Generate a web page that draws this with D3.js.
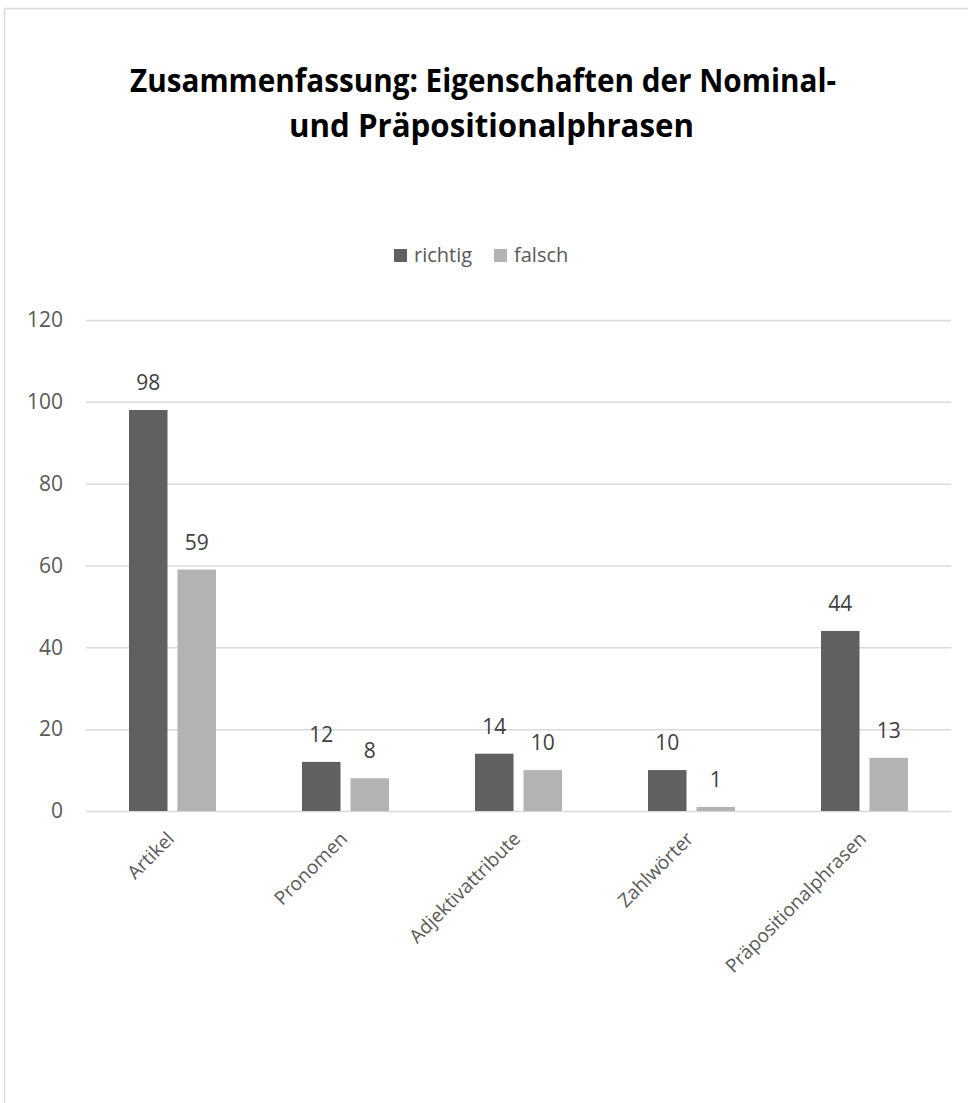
<!DOCTYPE html>
<html>
<head>
<meta charset="utf-8">
<script src="https://cdn.jsdelivr.net/npm/d3@7"></script>
<style>
  html, body { margin: 0; padding: 0; background: #fff; }
  svg { display: block; font-family: "Open Sans", sans-serif; }
</style>
</head>
<body>
<div class="vis"></div>
<script>
(function() {
  'use strict';

  var categories = ["Artikel", "Pronomen", "Adjektivattribute", "Zahlwörter", "Präpositionalphrasen"];
  var seriesNames = ["richtig", "falsch"];
  var richtig = [98, 12, 14, 10, 44];
  var falsch = [59, 8, 10, 1, 13];
  var yTicks = [0, 20, 40, 60, 80, 100, 120];
  var titleLines = ["Zusammenfassung: Eigenschaften der Nominal-", "und Präpositionalphrasen"];

  var colors = {richtig: "#606060", falsch: "#b3b3b3"};

  var W = 968, H = 1103,
    plot = {left: 86, right: 951, top: 320, bottom: 811};

  var svg = d3.select('.vis').append('svg')
      .attr('width', W)
      .attr('height', H);

  // chart frame (runs off the right and bottom of the picture)
  svg.append('rect')
      .attr('x', 4.5).attr('y', 8.5)
      .attr('width', W + 20).attr('height', H + 20)
      .attr('fill', '#fff')
      .attr('stroke', '#d9d9d9')
      .attr('stroke-width', 1.5);

  // title
  svg.selectAll('.title')
    .data(titleLines)
    .enter()
    .append('text')
      .attr('class', 'title')
      .attr('x', function(d, i) { return i === 0 ? 130 : 289; })
      .attr('y', function(d, i) { return 92 + i * 45; })
      .attr('textLength', function(d, i) { return i === 0 ? 706 : 405; })
      .attr('lengthAdjust', 'spacingAndGlyphs')
      .attr('font-size', 33)
      .attr('font-weight', 'bold')
      .attr('fill', '#000')
      .text(function(d) { return d; });

  var x0 = d3.scaleBand()
      .domain(categories)
      .range([plot.left, plot.right]);

  var groupW = 87;
  var x1 = d3.scaleBand()
      .domain(seriesNames)
      .range([0, groupW])
      .paddingInner(0.206);

  var y = d3.scaleLinear()
      .domain([0, 120])
      .range([plot.bottom, plot.top]);

  // gridlines + y labels
  var yAxis = svg.append('g')
      .attr('transform', 'translate(' + plot.left + ',0)')
      .call(d3.axisLeft(y)
        .tickValues(yTicks)
        .tickSize(-(plot.right - plot.left))
        .tickPadding(23));
  yAxis.select('.domain').remove();
  yAxis.selectAll('line')
      .attr('stroke', '#d9d9d9')
      .attr('stroke-width', 1.5);
  yAxis.selectAll('text')
      .attr('fill', '#595959')
      .attr('font-size', 21)
      .attr('font-family', '"Open Sans", sans-serif');

  var data = categories.map(function(c, i) {
    return {cat: c, values: [
      {key: 'richtig', value: richtig[i]},
      {key: 'falsch', value: falsch[i]}
    ]};
  });

  var offset = (x0.bandwidth() - groupW) / 2;

  var groups = svg.selectAll('.group')
    .data(data)
    .enter()
    .append('g')
      .attr('class', 'group')
      .attr('transform', function(d) {
        return 'translate(' + (x0(d.cat) + offset) + ',0)';
      });

  groups.selectAll('rect')
    .data(function(d) { return d.values; })
    .enter()
    .append('rect')
      .attr('x', function(d) { return x1(d.key); })
      .attr('y', function(d) { return y(d.value); })
      .attr('width', x1.bandwidth())
      .attr('height', function(d) { return y(0) - y(d.value); })
      .attr('fill', function(d) { return colors[d.key]; });

  groups.selectAll('.lbl')
    .data(function(d) { return d.values; })
    .enter()
    .append('text')
      .attr('class', 'lbl')
      .attr('x', function(d) { return x1(d.key) + x1.bandwidth() / 2; })
      .attr('y', function(d) { return y(d.value) - 20; })
      .attr('text-anchor', 'middle')
      .attr('font-size', 21)
      .attr('fill', '#404040')
      .text(function(d) { return d.value; });

  // category labels, rotated
  svg.selectAll('.xlab')
    .data(categories)
    .enter()
    .append('text')
      .attr('class', 'xlab')
      .attr('text-anchor', 'end')
      .attr('font-size', 19)
      .attr('fill', '#595959')
      .attr('transform', function(d) {
        var cx = x0(d) + x0.bandwidth() / 2;
        return 'translate(' + (cx + 3) + ',' + (plot.bottom + 29) + ') rotate(-45)';
      })
      .text(function(d) { return d; });

  // legend
  var legend = svg.append('g')
      .attr('transform', 'translate(394,249)');
  var legX = [0, 100];
  var items = legend.selectAll('.leg')
    .data(seriesNames)
    .enter()
    .append('g')
      .attr('class', 'leg')
      .attr('transform', function(d, i) { return 'translate(' + legX[i] + ',0)'; });
  items.append('rect')
      .attr('width', 13).attr('height', 13)
      .attr('fill', function(d) { return colors[d]; });
  items.append('text')
      .attr('x', 20).attr('y', 13)
      .attr('font-size', 20)
      .attr('fill', '#595959')
      .text(function(d) { return d; });
}());
</script>
</body>
</html>
